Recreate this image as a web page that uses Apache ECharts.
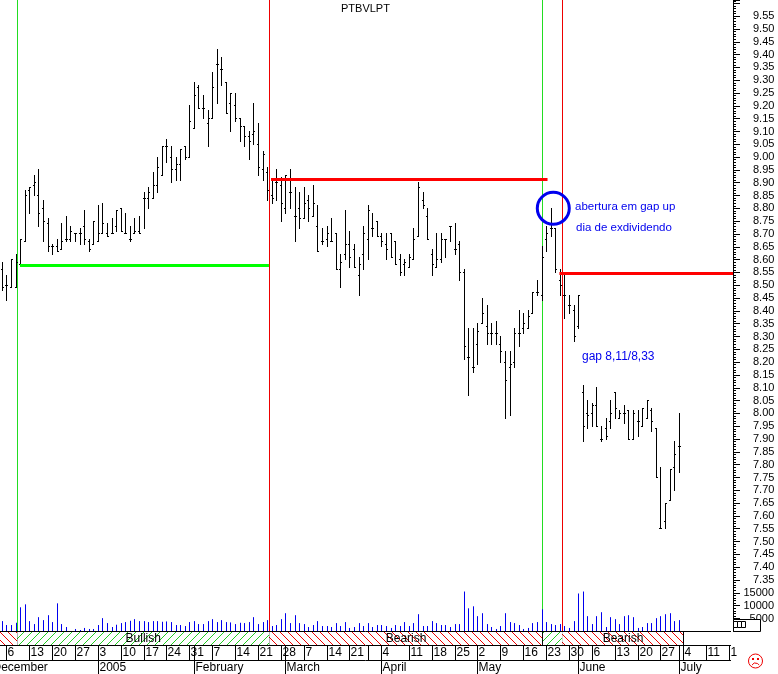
<!DOCTYPE html>
<html>
<head>
<meta charset="utf-8">
<style>html,body{margin:0;padding:0;background:#fff}#c{width:778px;height:674px}</style>
<script src="https://cdn.jsdelivr.net/npm/echarts@6/dist/echarts.min.js"></script>
</head>
<body>
<div id="c"></div>
<script>
const opens = [8.56,8.50,8.49,8.49,8.58,8.67,8.87,8.89,8.85,8.80,
8.74,8.65,8.65,8.64,8.68,8.68,8.70,8.70,8.73,8.67,
8.66,8.67,8.70,8.70,8.70,8.73,8.80,8.70,8.68,8.70,
8.71,8.84,8.84,8.84,8.89,8.93,9.04,9.00,8.95,8.97,
9.04,9.00,9.11,9.27,9.19,9.13,9.15,9.36,9.34,9.29,
9.21,9.20,9.15,9.12,9.08,9.09,9.05,8.95,8.94,8.85,
8.90,8.89,8.80,8.86,8.77,8.80,8.76,8.83,8.77,8.73,
8.67,8.68,8.67,8.70,8.56,8.62,8.66,8.64,8.54,8.62,
8.68,8.72,8.75,8.69,8.66,8.70,8.67,8.60,8.58,8.57,
8.60,8.69,8.83,8.77,8.62,8.57,8.60,8.68,8.73,8.64,
8.66,8.55,8.22,8.18,8.27,8.35,8.34,8.31,8.31,8.27,
8.20,8.18,8.20,8.31,8.33,8.33,8.39,8.47,8.46,8.68,
8.72,8.72,8.52,8.46,8.42,8.40,8.34,8.08,8.00,8.00,
8.03,7.90,7.94,7.97,8.08,7.98,8.00,8.01,7.90,7.97,
7.95,7.98,8.01,7.94,7.55,7.58,7.66,7.79,7.87];
const highs = [8.59,8.54,8.60,8.62,8.68,8.87,8.88,8.93,8.95,8.83,
8.76,8.66,8.68,8.74,8.77,8.73,8.70,8.72,8.79,8.68,
8.75,8.81,8.82,8.74,8.76,8.79,8.80,8.78,8.73,8.76,
8.77,8.86,8.88,8.94,9.00,9.04,9.07,9.04,9.00,9.03,
9.04,9.20,9.29,9.28,9.24,9.18,9.33,9.42,9.39,9.29,
9.25,9.25,9.15,9.12,9.10,9.21,9.13,9.02,8.96,8.91,
8.95,8.92,8.93,8.95,8.88,8.86,8.88,8.85,8.89,8.81,
8.72,8.73,8.76,8.70,8.62,8.79,8.71,8.66,8.61,8.73,
8.81,8.78,8.75,8.70,8.70,8.70,8.67,8.62,8.60,8.62,
8.72,8.90,8.86,8.80,8.64,8.70,8.70,8.68,8.73,8.74,
8.67,8.56,8.33,8.33,8.35,8.45,8.42,8.35,8.36,8.30,
8.24,8.24,8.33,8.40,8.39,8.40,8.47,8.52,8.65,8.73,
8.80,8.72,8.56,8.54,8.46,8.42,8.46,8.11,8.05,8.04,
8.10,7.95,7.98,8.05,8.08,8.01,8.03,8.01,8.01,8.01,
8.02,8.05,8.02,7.94,7.79,7.65,7.78,7.89,8.00];
const lows = [8.48,8.44,8.49,8.49,8.58,8.67,8.78,8.85,8.73,8.67,
8.63,8.62,8.63,8.64,8.67,8.67,8.67,8.66,8.66,8.63,
8.66,8.67,8.70,8.69,8.70,8.71,8.71,8.70,8.67,8.70,
8.70,8.72,8.80,8.84,8.86,8.93,8.98,8.90,8.91,8.91,
8.99,9.00,9.11,9.19,9.15,9.04,9.15,9.21,9.28,9.17,
9.10,9.14,9.06,9.04,8.99,9.05,8.93,8.91,8.83,8.82,
8.83,8.75,8.78,8.80,8.67,8.72,8.76,8.75,8.77,8.63,
8.66,8.65,8.67,8.56,8.49,8.60,8.57,8.57,8.46,8.56,
8.60,8.69,8.69,8.65,8.60,8.61,8.58,8.54,8.54,8.57,
8.60,8.69,8.80,8.68,8.54,8.57,8.59,8.61,8.67,8.62,
8.52,8.21,8.07,8.16,8.19,8.35,8.27,8.27,8.27,8.20,
7.98,7.99,8.18,8.26,8.31,8.33,8.39,8.46,8.44,8.63,
8.69,8.55,8.46,8.37,8.39,8.28,8.33,7.89,7.94,7.95,
7.95,7.89,7.90,7.94,7.98,7.98,7.96,7.90,7.90,7.91,
7.95,7.98,7.93,7.75,7.55,7.55,7.66,7.70,7.77];
const closes = [8.49,8.50,8.60,8.59,8.68,8.85,8.88,8.90,8.78,8.75,
8.65,8.65,8.63,8.67,8.68,8.71,8.70,8.70,8.68,8.64,
8.75,8.70,8.74,8.69,8.70,8.79,8.71,8.70,8.68,8.71,
8.70,8.84,8.86,8.89,8.96,9.04,9.04,8.95,8.97,9.03,
9.00,9.14,9.24,9.19,9.19,9.15,9.27,9.36,9.34,9.17,
9.25,9.15,9.12,9.08,9.06,9.10,8.96,9.01,8.87,8.84,
8.90,8.82,8.93,8.86,8.77,8.76,8.82,8.80,8.82,8.63,
8.67,8.70,8.67,8.56,8.59,8.66,8.61,8.57,8.58,8.70,
8.79,8.72,8.69,8.67,8.64,8.61,8.58,8.55,8.59,8.61,
8.68,8.88,8.81,8.68,8.58,8.60,8.68,8.68,8.73,8.64,
8.55,8.26,8.22,8.18,8.32,8.39,8.31,8.31,8.31,8.24,
8.13,8.19,8.31,8.31,8.35,8.38,8.47,8.47,8.61,8.70,
8.72,8.56,8.50,8.46,8.42,8.30,8.46,7.95,7.99,8.03,
7.95,7.90,7.91,8.00,8.02,8.00,8.00,7.90,8.00,7.97,
8.02,8.05,7.97,7.75,7.55,7.65,7.78,7.84,7.87];
const volumes = [3970,2440,2440,3330,9360,10510,3970,2820,5510,4360,
6280,3590,10900,2820,1670,0,900,500,1300,900,
900,2440,5130,3200,1670,2560,3200,3590,4100,4740,
3970,3970,3590,3970,3970,3720,3850,3590,2440,2440,
2050,3590,3970,2820,2820,3970,4740,3590,4360,3590,
3460,2820,3330,3200,3590,5510,2820,3590,4360,2050,
2440,4740,7050,3200,6280,3200,2820,1670,2440,3970,
2050,2050,1670,3200,2050,3590,1300,1670,3200,2050,
3200,1670,2440,2440,2050,
1300,2440,2050,3590,2050,3200,6670,2050,2050,3970,
3200,2440,2440,1670,2820,2820,15510,8970,9740,5900,
7050,2820,1670,900,2050,7050,3590,3200,2440,900,
1300,3200,3590,8590,3590,2820,2440,2820,2050,1300,
3970,14740,15510,5900,2820,5900,7440,1670,5510,4740,
2820,5900,6280,5510,1300,1670,3200,3200,5130,5900,
6670,7050,3970,4360];

const weekIndex = [1,6,11,16,21,26,31,36,41,46,51,56,61,66,71,76,80,83,89,94,99,104,109,114,119,124,129,134,139,144,149,154,159];
const weekLabels = ['6','13','20','27','3','10','17','24','31','7','14','21','28','7','14','21','','4','11','18','25','2','9','16','23','30','6','13','20','27','4','11','1'];
const monthIndex = [-2.4,21,42,62,83,104,126,148];
const monthLabels = ['December','2005','February','March','April','May','June','July'];

const bandStart = [-0.5,3.28,58.37,118.2,122.4];
const bandEnd = [3.28,58.37,118.2,122.4,149];
const bandKind = ['bear','bull','bear','bull','bear'];
const bandLabels = ['','Bullish','Bearish','','Bearish'];

const vLineIndex = [3.28,58.37,118.2,122.4];
const vLineColors = ['#22dd22','#ee0000','#22dd22','#ee0000'];

const hLineFrom = [3.87,58.75,121.8];
const hLineTo = [58.3,119.2,159.75];
const hLinePrice = [8.579,8.914,8.547];
const hLineColors = ['#00ff00','#ff0000','#ff0000'];

const circleIndex = 120.46, circlePrice = 8.80;

const priceMin = 7.35, priceMax = 9.613, priceStep = 0.05;
const XMIN = -0.5, XMAX = 159.75;

function hatch(color, dir){
  const c = document.createElement('canvas'); c.width = 8; c.height = 8;
  const g = c.getContext('2d'); g.fillStyle = '#fff'; g.fillRect(0,0,8,8); g.fillStyle = color;
  for(let k=0;k<8;k++) g.fillRect(k, dir>0 ? k : 7-k, 1, 1);
  return c;
}
const hatchBear = hatch('#ee0000', 1), hatchBull = hatch('#22cc22', -1);
const snap = v => Math.floor(v) + 0.5;
const lineShape = (x1,y1,x2,y2,color,w) => ({type:'line', shape:{x1,y1,x2,y2}, style:{stroke:color, lineWidth:w||1}, silent:true});

const xAxisBase = {type:'value', min:XMIN, max:XMAX, show:false};
const idx = a => a.map((_, i) => i);

const chart = echarts.init(document.getElementById('c'), null, {renderer:'canvas'});
chart.setOption({
  animation:false,
  backgroundColor:'#fff',
  grid:[
    {left:0, top:0, width:733, height:580},
    {left:0, top:580, width:733, height:51.3},
    {left:0, top:631, width:733, height:43}
  ],
  xAxis:[
    Object.assign({gridIndex:0}, xAxisBase),
    Object.assign({gridIndex:1}, xAxisBase),
    Object.assign({gridIndex:2}, xAxisBase)
  ],
  yAxis:[
    {gridIndex:0, type:'value', position:'right', min:priceMin, max:priceMax, interval:priceStep,
     splitLine:{show:false},
     axisLine:{show:true, onZero:false, lineStyle:{color:'#000', width:1}},
     axisTick:{show:true, length:7, lineStyle:{color:'#000'}},
     minorTick:{show:true, splitNumber:5, length:3, lineStyle:{color:'#000'}},
     axisLabel:{margin:20, align:'left', color:'#000', fontFamily:'Liberation Sans', fontSize:11, hideOverlap:false,
       showMinLabel:true, showMaxLabel:false,
       formatter:v => v > 9.58 ? '' : v.toFixed(2)}},
    {gridIndex:1, type:'value', position:'right', min:0, max:20000, interval:5000,
     splitLine:{show:false},
     axisLine:{show:true, onZero:false, lineStyle:{color:'#000', width:1}},
     axisTick:{show:true, length:7, lineStyle:{color:'#000'}},
     minorTick:{show:true, splitNumber:5, length:3, lineStyle:{color:'#000'}},
     axisLabel:{margin:41, align:'right', color:'#000', fontFamily:'Liberation Sans', fontSize:11,
       formatter:v => (v >= 5000 && v <= 15000) ? String(v) : ''}},
    {gridIndex:2, type:'value', min:0, max:43, inverse:true, show:false}
  ],
  series:[
    {type:'custom', name:'vlines-price', xAxisIndex:0, yAxisIndex:0, data:idx(vLineIndex), silent:true,
     renderItem:(p,api)=>{
       const k=api.value(0), x=snap(api.coord([vLineIndex[k],priceMax])[0]);
       return lineShape(x,api.coord([0,priceMax])[1],x,api.coord([0,priceMin])[1],vLineColors[k]);
     }},
    {type:'custom', name:'vlines-volume', xAxisIndex:1, yAxisIndex:1, data:idx(vLineIndex), silent:true,
     renderItem:(p,api)=>{
       const k=api.value(0), x=snap(api.coord([vLineIndex[k],0])[0]);
       return lineShape(x,api.coord([0,20000])[1],x,api.coord([0,0])[1],vLineColors[k]);
     }},
    {type:'custom', name:'price', xAxisIndex:0, yAxisIndex:0, silent:true,
     data:highs.map((h,i)=>[i,opens[i],h,lows[i],closes[i]]),
     encode:{x:0,y:[2,3]},
     renderItem:(p,api)=>{
       const i=api.value(0), x=snap(api.coord([i,0])[0]);
       const yo=snap(api.coord([i,api.value(1)])[1]), yh=Math.floor(api.coord([i,api.value(2)])[1]);
       const yl=Math.ceil(api.coord([i,api.value(3)])[1]), yc=snap(api.coord([i,api.value(4)])[1]);
       return {type:'group', children:[
         lineShape(x,yh,x,yl,'#000'),
         lineShape(x-1.5,yo,x-0.5,yo,'#000'),
         lineShape(x+0.5,yc,x+1.5,yc,'#000')
       ]};
     }},
    {type:'custom', name:'volume', xAxisIndex:1, yAxisIndex:1, silent:true,
     data:volumes.map((v,i)=>[i,v]), encode:{x:0,y:1},
     renderItem:(p,api)=>{
       const i=api.value(0), x=snap(api.coord([i,0])[0]);
       return lineShape(x,api.coord([i,api.value(1)])[1],x,api.coord([i,0])[1],'#0000ee');
     }},
    {type:'custom', name:'levels', xAxisIndex:0, yAxisIndex:0, silent:true, data:idx(hLinePrice), z:5,
     renderItem:(p,api)=>{
       const k=api.value(0), a=api.coord([hLineFrom[k],hLinePrice[k]]), b=api.coord([hLineTo[k],hLinePrice[k]]);
       return lineShape(a[0],Math.round(a[1])+0.5,b[0],Math.round(a[1])+0.5,hLineColors[k],3);
     }},
    {type:'custom', name:'circle', xAxisIndex:0, yAxisIndex:0, silent:true, data:[0], z:6,
     renderItem:(p,api)=>{
       const c=api.coord([circleIndex,circlePrice]);
       return {type:'circle', shape:{cx:c[0],cy:c[1],r:16}, style:{fill:'none',stroke:'#0000ee',lineWidth:3}};
     }},
    {type:'custom', name:'bands', xAxisIndex:2, yAxisIndex:2, silent:true, data:idx(bandStart),
     renderItem:(p,api)=>{
       const k=api.value(0), a=api.coord([bandStart[k],0]), b=api.coord([bandEnd[k],14]);
       const ch=[{type:'rect', shape:{x:a[0],y:a[1],width:b[0]-a[0],height:b[1]-a[1]},
                  style:{fill:{image:bandKind[k]==='bear'?hatchBear:hatchBull, repeat:'repeat'}}},
                 lineShape(snap(b[0]),a[1],snap(b[0]),b[1],'#000')];
       if(bandLabels[k]) ch.push({type:'text', style:{text:bandLabels[k], x:(a[0]+b[0])/2, y:(a[1]+b[1])/2+1, align:'center', verticalAlign:'middle',
                  fill:'#000', font:'12px "Liberation Sans"'}});
       return {type:'group', children:ch};
     }},
    {type:'custom', name:'weeks', xAxisIndex:2, yAxisIndex:2, silent:true, data:idx(weekIndex), z:4,
     renderItem:(p,api)=>{
       const k=api.value(0), a=api.coord([weekIndex[k],14]), b=api.coord([weekIndex[k],29]), x=snap(a[0]);
       const ch=[lineShape(x,a[1],x,b[1],'#000')];
       if(weekLabels[k]) ch.push({type:'text', style:{text:weekLabels[k], x:x+1, y:(a[1]+b[1])/2, align:'left', verticalAlign:'middle',
                  fill:'#000', font:'12px "Liberation Sans"'}});
       return {type:'group', children:ch};
     }},
    {type:'custom', name:'months', xAxisIndex:2, yAxisIndex:2, silent:true, data:idx(monthIndex), z:4,
     renderItem:(p,api)=>{
       const k=api.value(0), a=api.coord([monthIndex[k],14]), b=api.coord([monthIndex[k],43]), m=api.coord([monthIndex[k],29]), x=snap(a[0]);
       return {type:'group', children:[
         lineShape(x,a[1],x,b[1],'#000'),
         {type:'text', style:{text:monthLabels[k], x:x+1, y:(m[1]+b[1])/2+1, align:'left', verticalAlign:'middle', fill:'#000', font:'12px "Liberation Sans"'}}
       ]};
     }},
    {type:'custom', name:'rows', xAxisIndex:2, yAxisIndex:2, silent:true, data:[0,14,29], z:4,
     renderItem:(p,api)=>{
       const y=snap(api.coord([0,api.value(0)])[1]);
       return lineShape(0,y,731,y,'#000');
     }}
  ],
  graphic:[
    {type:'text', left:341, top:3, z:10, style:{text:'PTBVLPT', fill:'#000', font:'11px "Liberation Sans"'}},
    {type:'text', left:575, top:201, z:10, style:{text:'abertura em gap up', fill:'#0000ee', font:'11.5px "Liberation Sans"'}},
    {type:'text', left:576, top:222, z:10, style:{text:'dia de exdividendo', fill:'#0000ee', font:'11.5px "Liberation Sans"'}},
    {type:'text', left:582, top:351, z:10, style:{text:'gap 8,11/8,33', fill:'#0000ee', font:'12px "Liberation Sans"'}},
    {type:'rect', z:20, shape:{x:733.5,y:619.5,width:27,height:12}, style:{fill:'#fff',stroke:'#000',lineWidth:1}},
    {type:'rect', z:21, shape:{x:733.5,y:621.5,width:4,height:6}, style:{fill:'#fff',stroke:'#000',lineWidth:1}},
    {type:'rect', z:21, shape:{x:737.5,y:621.5,width:4,height:6}, style:{fill:'#fff',stroke:'#000',lineWidth:1}},
    {type:'rect', z:21, shape:{x:741.5,y:621.5,width:4,height:6}, style:{fill:'#fff',stroke:'#000',lineWidth:1}},
    {type:'circle', z:20, shape:{cx:755.5,cy:661,r:7}, style:{fill:'none',stroke:'#ee0000',lineWidth:1}},
    {type:'rect', z:20, shape:{x:752,y:658,width:2,height:2}, style:{fill:'#ee0000'}},
    {type:'rect', z:20, shape:{x:757,y:658,width:2,height:2}, style:{fill:'#ee0000'}},
    {type:'arc', z:20, shape:{cx:755.5,cy:667,r:4,startAngle:Math.PI*1.15,endAngle:Math.PI*1.85}, style:{fill:'none',stroke:'#ee0000',lineWidth:1}}
  ]
});
</script>
</body>
</html>
